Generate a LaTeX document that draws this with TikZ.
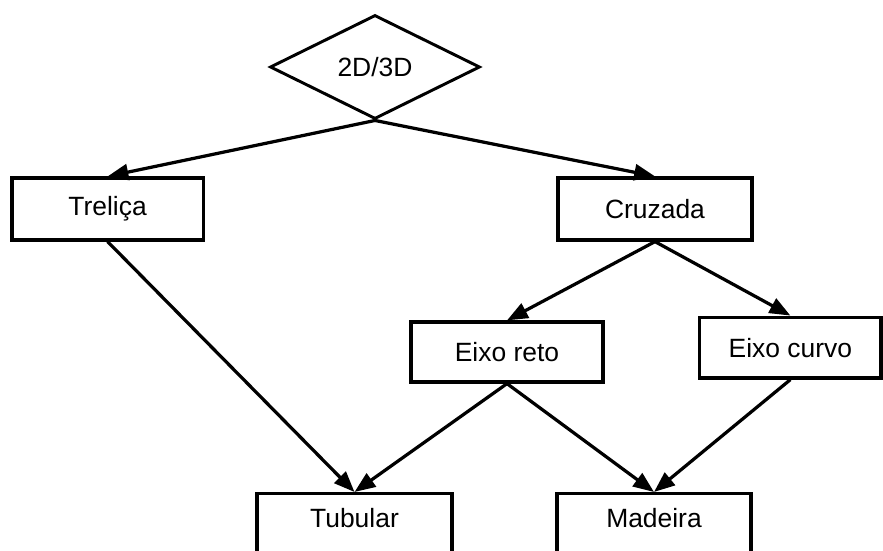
\documentclass[tikz,border=0pt]{standalone}
\usepackage{fontspec}
\setmainfont{Liberation Sans}
\usetikzlibrary{arrows.meta}
\usetikzlibrary{shapes.geometric}
\tikzset{
box/.style = {rectangle, draw=black, line width=2.3pt, minimum width = #1,
              minimum height=1.55cm, inner sep=0pt},
box/.default = 4.8cm % outer width of the box
}
\tikzset{
endbox/.style = {box=#1, anchor=north, text height=0.85cm, text depth=0.95cm}
}
\tikzset{
choice/.style = {diamond, draw=black, line width=2.1pt, minimum width=5.25cm,
                 minimum height=2.6cm, inner sep=0pt}
}
\tikzset{
link/.style = {line width=2.3pt, -{Triangle[length=5.2mm, width=4mm]}}
}

\begin{document}
\begin{tikzpicture}[every node/.style={font=\fontsize{18.8}{22}\selectfont}]

    \useasboundingbox (0,0) rectangle (22.075,-13.775);

    \node[choice] (dimChoice) at (9.375,-1.675) {2D/3D};

    \node[box=4.78cm] (trelicaBox) at (2.69,-5.225) {Treliça};
    \node[box=4.85cm] (cruzadaBox) at (16.375,-5.225) {Cruzada};
    \node[box=4.8cm, minimum height=1.5cm] (retoBox) at (12.675,-8.8) {Eixo reto};
    \node[box=4.53cm, minimum height=1.52cm] (curvoBox) at (19.76,-8.69) {Eixo curvo};
    % bottom row runs past the lower edge
    \node[endbox=4.88cm] (tubularBox) at (8.8625,-12.3) {Tubular};
    \node[endbox=4.85cm] (madeiraBox) at (16.35,-12.3) {Madeira};

    \draw[link] (dimChoice.south) -- (trelicaBox.north);
    \draw[link] (dimChoice.south) -- (cruzadaBox.north);
    \draw[link] (cruzadaBox.south) -- (retoBox.north);
    \draw[link] (cruzadaBox.south) -- (curvoBox.north);
    \draw[link] (trelicaBox.south) -- (tubularBox.north);
    \draw[link] (retoBox.south) -- (tubularBox.north);
    \draw[link] (retoBox.south) -- (madeiraBox.north);
    \draw[link] (curvoBox.south) -- (madeiraBox.north);
  \end{tikzpicture}
\end{document}
